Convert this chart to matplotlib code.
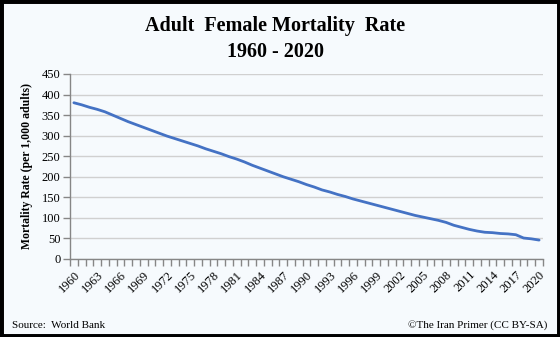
import matplotlib
matplotlib.use("Agg")
import matplotlib.pyplot as plt
from matplotlib.patches import Rectangle

years = list(range(1960, 2021))
rates = [380, 375, 369, 364, 358, 350, 342, 334, 327, 320,
         313, 306, 299, 293, 287, 281, 275, 268, 262, 256,
         249, 243, 236, 228, 221, 214, 207, 200, 194, 188,
         181, 175, 168, 163, 157, 152, 146, 141, 136, 131,
         126, 121, 116, 111, 106, 102, 98, 94, 89, 82,
         77, 72, 68, 65, 64, 62, 61, 59, 51, 49, 46]
yticks = list(range(0, 451, 50))

title = "Adult  Female Mortality  Rate\n1960 - 2020"
ylabel = "Mortality Rate (per 1,000 adults)"
source = "Source:  World Bank"
credit = "\u00a9The Iran Primer (CC BY-SA)"

bg = "#F6FAFD"
plt.rcParams['font.family'] = ['Liberation Serif', 'DejaVu Serif']

fig = plt.figure(figsize=(5.6, 3.37), dpi=100, facecolor=bg)
ax = fig.add_axes([0.125, 0.2315, 0.8446, 0.549])
ax.set_facecolor(bg)

x = list(range(len(years)))
ax.plot(x, rates, color="#4472C4", lw=2.0, solid_capstyle="round")

ax.set_xlim(-0.5, len(years) - 0.5)
ax.set_ylim(0, 450)
ax.set_yticks(yticks)
ax.set_yticklabels([str(v) for v in yticks], fontsize=9)
ax.grid(axis="y", color="#D0D0D0", lw=1)
ax.set_axisbelow(True)

ax.set_xticks(x[::3])
ax.set_xticklabels([str(years[i]) for i in x[::3]], rotation=45, ha="right",
                   rotation_mode="anchor", fontsize=9)
ax.tick_params(axis="x", which="major", length=0, pad=7)
ax.set_xticks([i - 0.5 for i in range(len(years) + 1)], minor=True)
ax.tick_params(axis="x", which="minor", length=5, color="#868686", width=1)
ax.tick_params(axis="y", length=5, color="#868686", width=1, pad=2)

for s in ["top", "right"]:
    ax.spines[s].set_visible(False)
for s in ["left", "bottom"]:
    ax.spines[s].set_color("#868686")
    ax.spines[s].set_linewidth(1)

ax.set_ylabel(ylabel, fontsize=8.5, fontweight="bold", labelpad=6)

fig.text(0.492, 0.884, title, ha="center", va="center", fontsize=14.5,
         fontweight="bold", linespacing=1.35)
fig.text(0.022, 0.035, source, ha="left", va="center", fontsize=8)
fig.text(0.978, 0.035, credit, ha="right", va="center", fontsize=8)

fig.patches.append(Rectangle((0, 0), 1, 1, transform=fig.transFigure,
                             fill=False, edgecolor="black", lw=5))

fig.savefig("out.png", dpi=100, facecolor=bg)
